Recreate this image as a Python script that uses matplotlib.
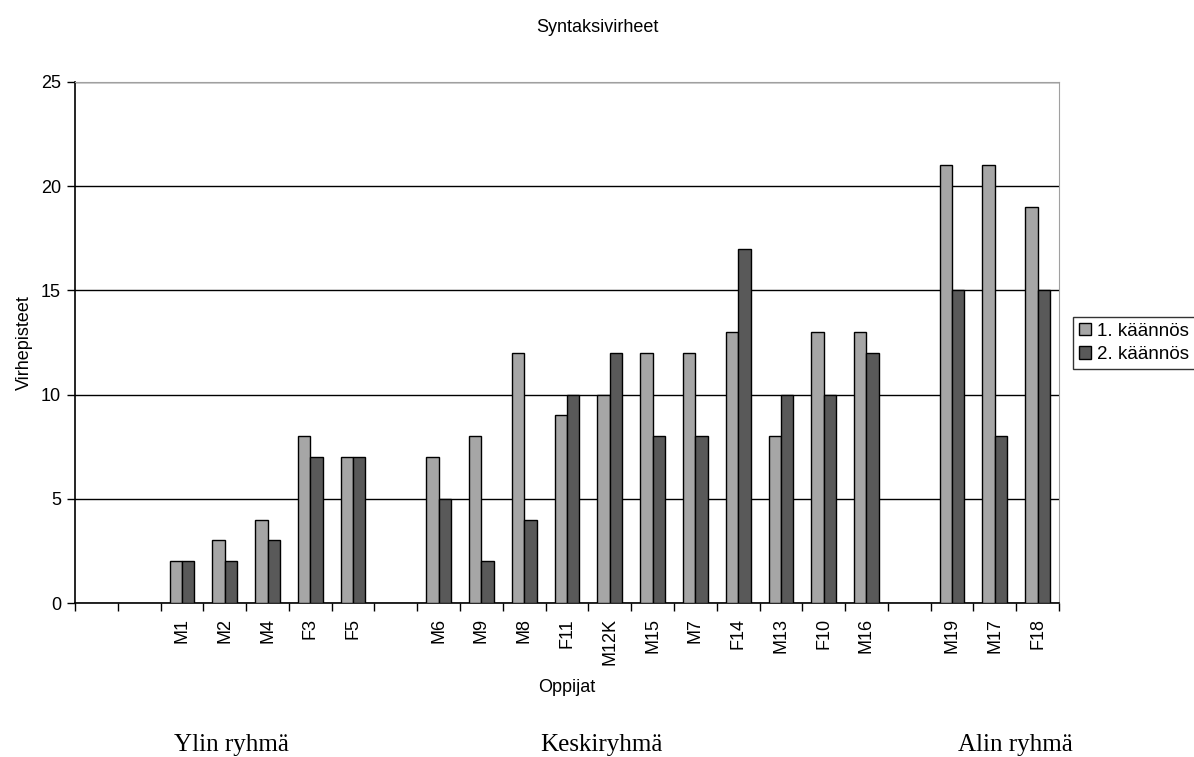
import numpy as np
import matplotlib.pyplot as plt

plt.rcParams['font.family'] = ['Liberation Sans', 'DejaVu Sans']

oppijat = ['', '', 'M1', 'M2', 'M4', 'F3', 'F5', '', 'M6', 'M9', 'M8', 'F11', 'M12K',
           'M15', 'M7', 'F14', 'M13', 'F10', 'M16', '', 'M19', 'M17', 'F18']
kaannos1 = [np.nan, np.nan, 2, 3, 4, 8, 7, np.nan, 7, 8, 12, 9, 10,
            12, 12, 13, 8, 13, 13, np.nan, 21, 21, 19]
kaannos2 = [np.nan, np.nan, 2, 2, 3, 7, 7, np.nan, 5, 2, 4, 10, 12,
            8, 8, 17, 10, 10, 12, np.nan, 15, 8, 15]
ryhmat = ['Ylin ryhmä', 'Keskiryhmä', 'Alin ryhmä']
ryhma_x = [231, 601, 1015]  # pixel centres of the group captions

fig = plt.figure(figsize=(11.94, 7.57), dpi=100)
ax = fig.add_axes([75 / 1194, 1 - 603 / 757, (1059 - 75) / 1194, (603 - 82) / 757])

x = np.arange(len(oppijat))
w = 0.29
ax.bar(x - w / 2, kaannos1, w, color='#A6A6A6', edgecolor='black', linewidth=1,
       label='1. käännös', zorder=3)
ax.bar(x + w / 2, kaannos2, w, color='#595959', edgecolor='black', linewidth=1,
       label='2. käännös', zorder=3)

ax.set_xlim(-0.5, len(oppijat) - 0.5)
ax.set_ylim(0, 25)
ax.set_yticks([0, 5, 10, 15, 20, 25])
ax.yaxis.grid(True, color='black', linewidth=1)
ax.set_axisbelow(True)

# labels in the middle of each slot, tick marks on the slot borders
ax.set_xticks(x)
ax.set_xticklabels(oppijat, rotation=90, fontsize=13)
ax.set_xticks(np.arange(-0.5, len(oppijat)), minor=True)
ax.tick_params(axis='x', which='major', length=0, pad=11)
ax.tick_params(axis='x', which='minor', length=6, width=1, direction='out')
ax.tick_params(axis='y', length=6, width=1, labelsize=13, pad=4)

for s in ['top', 'right']:
    ax.spines[s].set_color('#A0A0A0')
for s in ['left', 'bottom']:
    ax.spines[s].set_color('black')
    ax.spines[s].set_linewidth(1.2)

ax.set_xlabel('Oppijat', fontsize=13, labelpad=10)
ax.set_ylabel('Virhepisteet', fontsize=13, labelpad=6)
fig.text(597 / 1194, 1 - 28 / 757, 'Syntaksivirheet', ha='center', va='center', fontsize=13)

ax.legend(loc='center left', bbox_to_anchor=(1073 / 1194, 1 - 343 / 757),
          bbox_transform=fig.transFigure, fontsize=13.5, frameon=True, fancybox=False,
          edgecolor='black', handlelength=0.65, handleheight=0.65, handletextpad=0.35,
          borderpad=0.3, labelspacing=0.35, borderaxespad=0)

for nimi, px in zip(ryhmat, ryhma_x):
    fig.text(px / 1194, 1 - 745 / 757, nimi, ha='center', va='center',
             fontsize=18, family='Liberation Serif')

fig.savefig('out.png', dpi=100)
